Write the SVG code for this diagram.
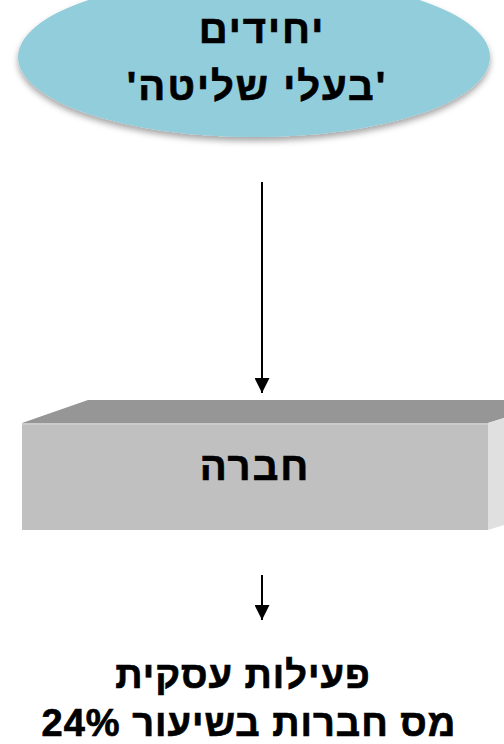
<svg xmlns="http://www.w3.org/2000/svg" width="504" height="744" viewBox="0 0 504 744">
<style>
.t{font-family:"Liberation Sans","DejaVu Sans",sans-serif;font-weight:bold;font-size:40px;letter-spacing:2px;fill:#000;stroke:#000;stroke-width:0.7px;text-anchor:middle;direction:rtl;unicode-bidi:embed}
.b{font-size:38px;letter-spacing:1px}
.c{stroke:#000;stroke-width:2;fill:none}
</style>
<defs>
<filter id="sh" x="-10%" y="-10%" width="120%" height="130%">
<feDropShadow dx="0" dy="4" stdDeviation="3" flood-color="#000" flood-opacity="0.35"/>
</filter>
<marker id="ah" markerWidth="15" markerHeight="15" refX="15" refY="7.5" orient="auto" markerUnits="userSpaceOnUse">
<path d="M0,0 L15,7.5 L0,15 Z" fill="#000"/>
</marker>
</defs>
<rect width="504" height="744" fill="#fff"/>
<g id="node-individuals">
<ellipse cx="254" cy="57" rx="236" ry="80" fill="#92cddc" filter="url(#sh)"/>
<text class="t" x="262" y="43">יחידים</text>
<text class="t" x="257" y="100">'בעלי שליטה'</text>
</g>
<g id="node-company">
<polygon points="22,423 88,400 560,400 488,423" fill="#969696"/>
<polygon points="488,423 560,400 560,507 488,530" fill="#e0e0e0"/>
<rect x="22" y="423" width="466" height="107" fill="#c0c0c0"/>
<line x1="22" y1="424" x2="488" y2="424" stroke="#cfcfcf" stroke-width="1.5"/>
<text class="t" x="255" y="480">חברה</text>
</g>
<g id="node-activity">
<text class="t b" x="243" y="688">פעילות עסקית</text>
<text class="t b" x="249" y="736">מס חברות בשיעור 24%</text>
</g>
<g id="connectors">
<line class="c" x1="262" y1="182" x2="262" y2="393" marker-end="url(#ah)"/>
<line class="c" x1="262" y1="575" x2="262" y2="620" marker-end="url(#ah)"/>
</g>
</svg>
